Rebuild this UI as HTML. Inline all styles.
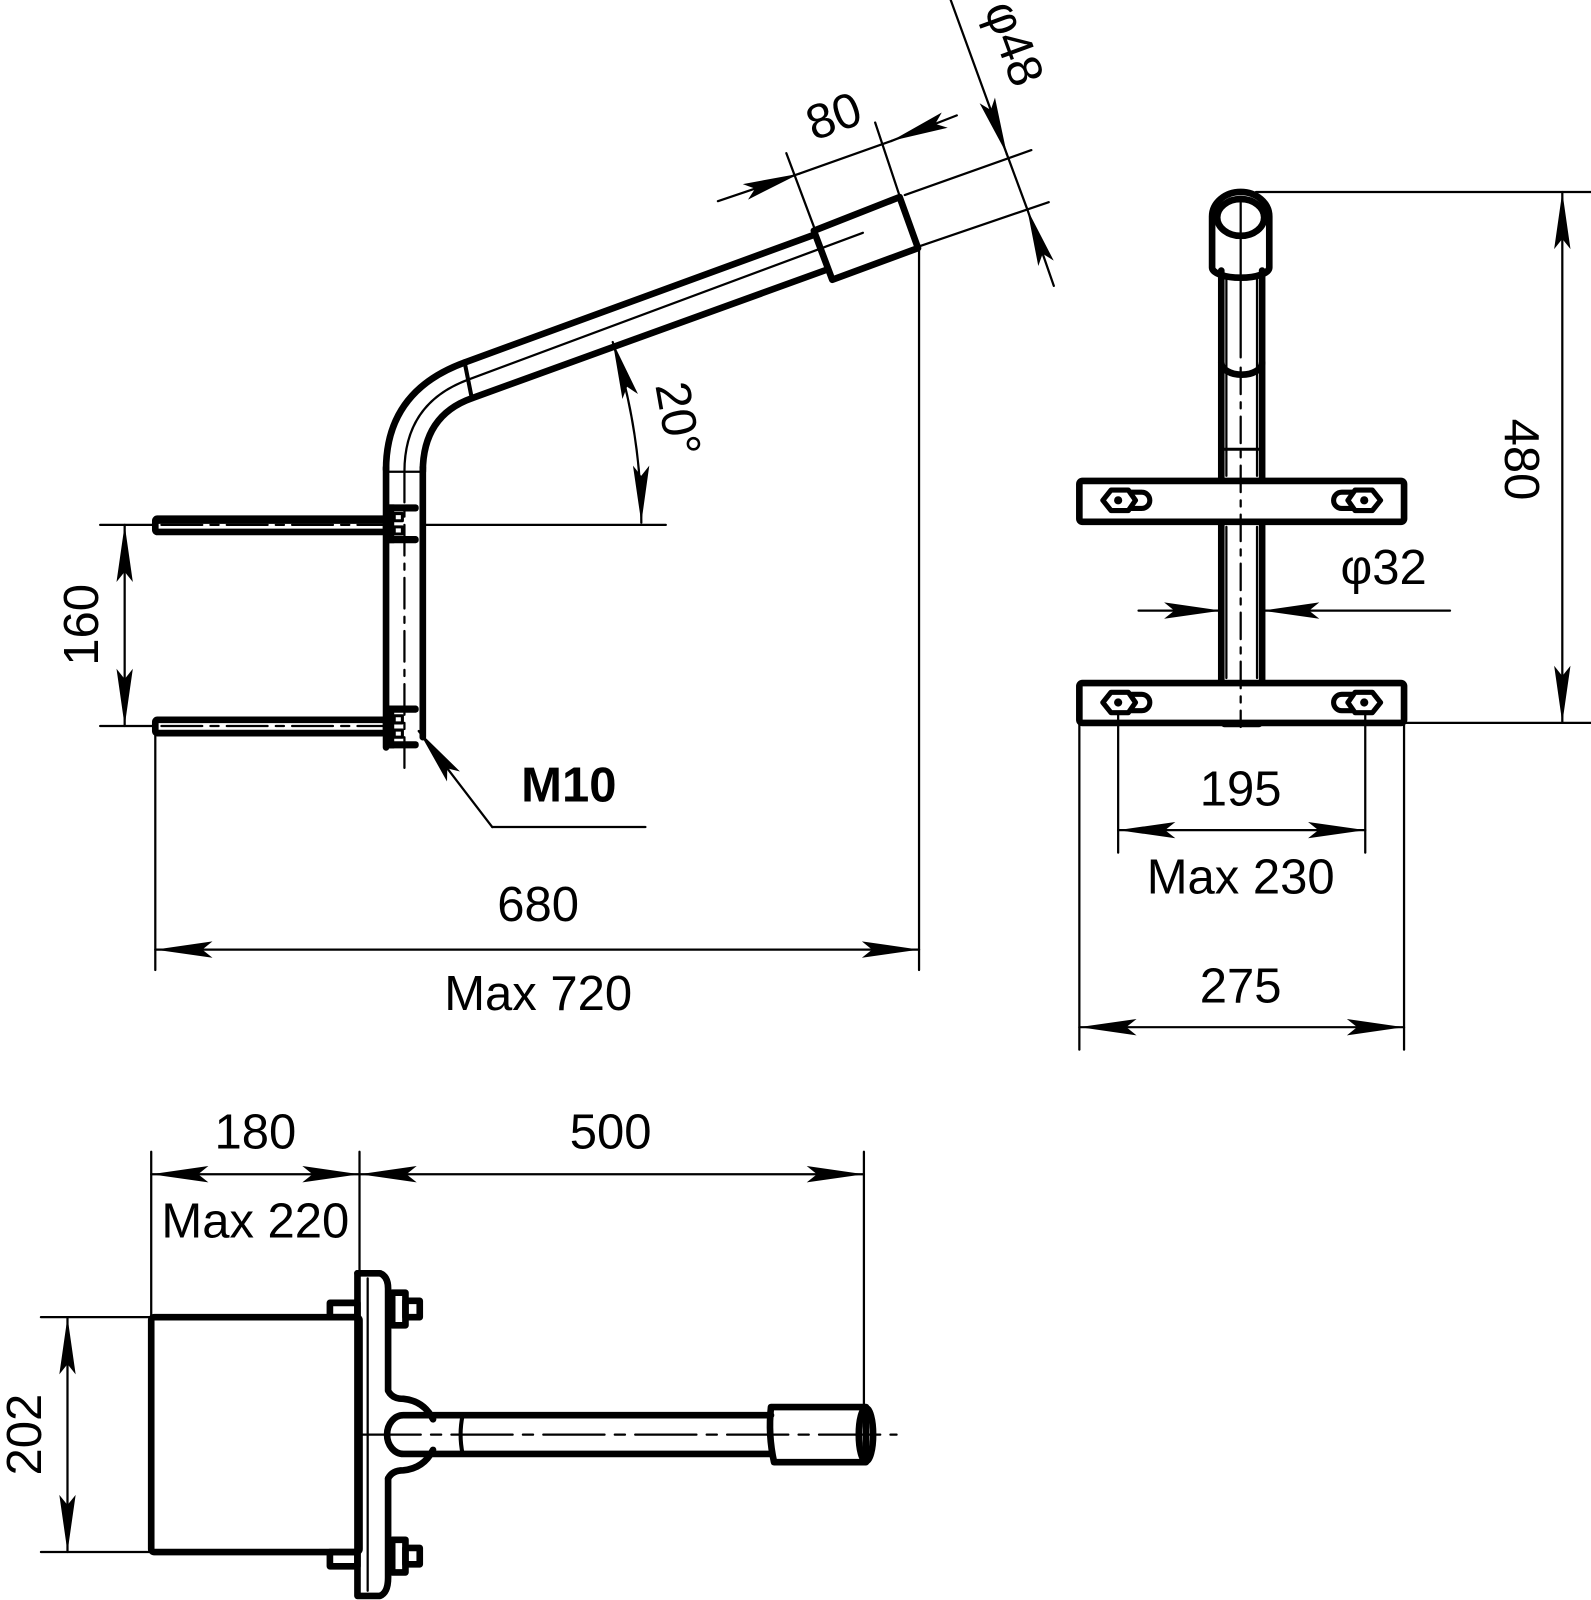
<!DOCTYPE html>
<html><head><meta charset="utf-8"><style>
html,body{margin:0;padding:0;background:#fff}
svg{display:block}
text{font-family:"Liberation Sans","DejaVu Sans",sans-serif;font-size:48px;fill:#000}
</style></head><body>
<svg width="1591" height="1600" viewBox="0 0 1558 1567" xmlns="http://www.w3.org/2000/svg">
<defs>
<marker id="a" markerUnits="userSpaceOnUse" markerWidth="70" markerHeight="20" viewBox="-60 -10 62 20" refX="0" refY="0" orient="auto-start-reverse">
<path d="M0,0 L-56,-8 L-46,0 L-56,8 Z" fill="#000"/>
</marker>
</defs>
<g fill="none" stroke="#000" stroke-linecap="round" stroke-linejoin="round">

<!-- ===== VIEW 1 ===== -->
<g stroke-width="6.5">
<rect x="152" y="508" width="226" height="13" rx="2"/>
<rect x="152" y="705" width="226" height="13" rx="2"/>
<line x1="378" y1="458" x2="378" y2="732"/>
<line x1="414" y1="458" x2="414" y2="722"/>
<path d="M378,460 Q378,383 455,355"/>
<path d="M414,462 Q414,407 462,390"/>
<line x1="455" y1="355" x2="797" y2="230"/>
<line x1="462" y1="390" x2="810" y2="264"/>
<line x1="455" y1="355" x2="462" y2="390" stroke-width="4"/>
<path d="M797,226 L881,193 L899,243 L815,274 Z"/>
</g>
<!-- clamps -->
<g fill="#000" stroke="none">
<rect x="376" y="494" width="34" height="7" rx="3"/>
<rect x="376" y="525" width="34" height="7" rx="3"/>
<rect x="376" y="494" width="10" height="38"/>
<rect x="376" y="691" width="34" height="7" rx="3"/>
<rect x="376" y="726" width="34" height="7" rx="3"/>
<rect x="376" y="691" width="10" height="42"/>
</g>
<g stroke-width="3">
<rect x="386" y="503" width="8" height="7"/>
<rect x="386" y="516" width="8" height="7"/>
<rect x="386" y="701" width="8" height="7"/>
<rect x="386" y="715" width="8" height="7"/>
</g>
<g stroke-width="2.2">
<line x1="380" y1="462" x2="412" y2="462"/>
<path d="M396,462 Q396,395 458,372 L845,228"/>
<line x1="396" y1="462" x2="396" y2="755" stroke-dasharray="30,8,6,8"/>
<line x1="158" y1="514" x2="378" y2="514" stroke-dasharray="40,8,8,8"/>
<line x1="158" y1="711" x2="378" y2="711" stroke-dasharray="40,8,8,8"/>
<line x1="155" y1="512" x2="375" y2="512"/>
<line x1="155" y1="716" x2="375" y2="716"/>
<line x1="414" y1="514" x2="652" y2="514"/>
<path d="M600,335 A586,586 0 0 1 628,512" marker-start="url(#a)" marker-end="url(#a)"/>
<line x1="797" y1="222" x2="770" y2="150"/>
<line x1="881" y1="192" x2="857" y2="120"/>
<line x1="703" y1="197" x2="783" y2="170" marker-end="url(#a)"/>
<line x1="937" y1="113" x2="873" y2="138" marker-end="url(#a)"/>
<line x1="783" y1="170" x2="873" y2="138"/>
<line x1="886" y1="191" x2="1010" y2="147"/>
<line x1="901" y1="241" x2="1027" y2="198"/>
<line x1="931" y1="0" x2="986" y2="151" marker-end="url(#a)"/>
<line x1="1032" y1="280" x2="1006" y2="205" marker-end="url(#a)"/>
<line x1="986" y1="151" x2="1006" y2="205"/>
<line x1="98" y1="514" x2="152" y2="514"/>
<line x1="98" y1="711" x2="152" y2="711"/>
<line x1="122" y1="514" x2="122" y2="711" marker-start="url(#a)" marker-end="url(#a)"/>
<line x1="152" y1="718" x2="152" y2="950"/>
<line x1="900" y1="243" x2="900" y2="950"/>
<line x1="152" y1="930" x2="900" y2="930" marker-start="url(#a)" marker-end="url(#a)"/>
<line x1="632" y1="810" x2="482" y2="810"/>
<line x1="482" y1="810" x2="410" y2="716" marker-end="url(#a)"/>
</g>

<!-- ===== RIGHT VIEW ===== -->
<g stroke-width="6.5">
<path d="M1187,262 L1187,212 A28,24 0 0 1 1243,212 L1243,262 A28,10 0 0 1 1187,262 Z"/>
<ellipse cx="1215" cy="213" rx="23" ry="18"/>
<line x1="1196" y1="265" x2="1196" y2="470"/>
<line x1="1236" y1="265" x2="1236" y2="470"/>
<line x1="1196" y1="512" x2="1196" y2="668"/>
<line x1="1236" y1="512" x2="1236" y2="668"/>
<path d="M1196,355 A20,12 0 0 0 1236,355"/>
<line x1="1196" y1="440" x2="1236" y2="440" stroke-width="3"/>
<rect x="1057" y="471" width="318" height="40" rx="3"/>
<rect x="1057" y="669" width="318" height="39" rx="3"/>
<path d="M1199,709 L1233,709"/>
<g stroke-width="5">
<path d="M1080,490 L1088,480 L1105,480 L1112,490 L1105,500 L1088,500 Z"/>
<path d="M1108,482 L1118,482 A8,8 0 0 1 1118,498 L1108,498"/>
<path d="M1352,490 L1344,480 L1327,480 L1320,490 L1327,500 L1344,500 Z"/>
<path d="M1324,482 L1314,482 A8,8 0 0 0 1314,498 L1324,498"/>
<path d="M1080,688 L1088,678 L1105,678 L1112,688 L1105,698 L1088,698 Z"/>
<path d="M1108,680 L1118,680 A8,8 0 0 1 1118,696 L1108,696"/>
<path d="M1352,688 L1344,678 L1327,678 L1320,688 L1327,698 L1344,698 Z"/>
<path d="M1324,680 L1314,680 A8,8 0 0 0 1314,696 L1324,696"/>
</g>
</g>
<g fill="#000" stroke="none">
<circle cx="1095" cy="490" r="4"/><circle cx="1336" cy="490" r="4"/>
<circle cx="1095" cy="688" r="4"/><circle cx="1336" cy="688" r="4"/>
</g>
<g stroke-width="2.2">
<line x1="1215" y1="195" x2="1215" y2="350"/>
<line x1="1215" y1="360" x2="1215" y2="712" stroke-dasharray="26,8,6,8"/>
<line x1="1201" y1="270" x2="1201" y2="466"/><line x1="1231" y1="270" x2="1231" y2="466"/>
<line x1="1201" y1="516" x2="1201" y2="664"/><line x1="1231" y1="516" x2="1231" y2="664"/>
<line x1="1230" y1="188" x2="1558" y2="188"/>
<line x1="1375" y1="708" x2="1558" y2="708"/>
<line x1="1530" y1="188" x2="1530" y2="708" marker-start="url(#a)" marker-end="url(#a)"/>
<line x1="1115" y1="598" x2="1196" y2="598" marker-end="url(#a)"/>
<line x1="1420" y1="598" x2="1236" y2="598" marker-end="url(#a)"/>
<line x1="1095" y1="700" x2="1095" y2="835"/>
<line x1="1337" y1="700" x2="1337" y2="835"/>
<line x1="1095" y1="813" x2="1337" y2="813" marker-start="url(#a)" marker-end="url(#a)"/>
<line x1="1057" y1="708" x2="1057" y2="1028"/>
<line x1="1375" y1="708" x2="1375" y2="1028"/>
<line x1="1057" y1="1006" x2="1375" y2="1006" marker-start="url(#a)" marker-end="url(#a)"/>
</g>

<!-- ===== BOTTOM VIEW ===== -->
<g stroke-width="6.5">
<rect x="148" y="1290" width="204" height="230" rx="3"/>
<path d="M350,1247 L350,1563 L372,1563 Q380,1560 380,1545 L380,1448"/>
<path d="M350,1247 L372,1247 Q380,1250 380,1262 L380,1362 Q384,1370 395,1370 Q415,1372 424,1390"/>
<path d="M380,1448 Q384,1440 395,1440 Q415,1438 424,1420"/>
<path d="M755,1386 L395,1386 A16,19 0 0 0 395,1424 L755,1424"/>
<path d="M453,1386 Q449,1405 453,1424" stroke-width="4"/>
<path d="M755,1378 L848,1378 L848,1432 L758,1432 Q752,1405 755,1378 Z"/>
<ellipse cx="848" cy="1405" rx="7" ry="26"/>
<rect x="323" y="1276" width="27" height="14"/>
<rect x="323" y="1520" width="27" height="14"/>
<rect x="384" y="1266" width="13" height="32"/>
<rect x="397" y="1274" width="14" height="16"/>
<rect x="384" y="1508" width="13" height="32"/>
<rect x="397" y="1516" width="14" height="16"/>
</g>
<g stroke-width="2.2">
<line x1="360" y1="1252" x2="360" y2="1558"/>
<line x1="352" y1="1405" x2="878" y2="1405" stroke-dasharray="60,10,10,10"/>
<line x1="148" y1="1128" x2="148" y2="1290"/>
<line x1="352" y1="1128" x2="352" y2="1247"/>
<line x1="846" y1="1128" x2="846" y2="1378"/>
<line x1="148" y1="1150" x2="352" y2="1150" marker-start="url(#a)" marker-end="url(#a)"/>
<line x1="352" y1="1150" x2="846" y2="1150" marker-start="url(#a)" marker-end="url(#a)"/>
<line x1="40" y1="1290" x2="148" y2="1290"/>
<line x1="40" y1="1520" x2="148" y2="1520"/>
<line x1="66" y1="1290" x2="66" y2="1520" marker-start="url(#a)" marker-end="url(#a)"/>
</g>
</g>

<!-- ===== TEXT ===== -->
<text x="527" y="902" text-anchor="middle">680</text>
<text x="527" y="989" text-anchor="middle">Max 720</text>
<text x="557" y="785" text-anchor="middle" font-weight="bold">M10</text>
<text transform="translate(96,612) rotate(-90)" text-anchor="middle">160</text>
<text transform="translate(648,413) rotate(80)" text-anchor="middle">20°</text>
<text transform="translate(822,129) rotate(-20)" text-anchor="middle">80</text>
<text transform="translate(978,48) rotate(70)" text-anchor="middle">φ48</text>
<text transform="translate(1474,450) rotate(90)" text-anchor="middle">480</text>
<text x="1355" y="572" text-anchor="middle">φ32</text>
<text x="1215" y="789" text-anchor="middle">195</text>
<text x="1215" y="875" text-anchor="middle">Max 230</text>
<text x="1215" y="982" text-anchor="middle">275</text>
<text x="250" y="1125" text-anchor="middle">180</text>
<text x="598" y="1125" text-anchor="middle">500</text>
<text x="250" y="1212" text-anchor="middle">Max 220</text>
<text transform="translate(40,1405) rotate(-90)" text-anchor="middle">202</text>
</svg>
</body></html>
